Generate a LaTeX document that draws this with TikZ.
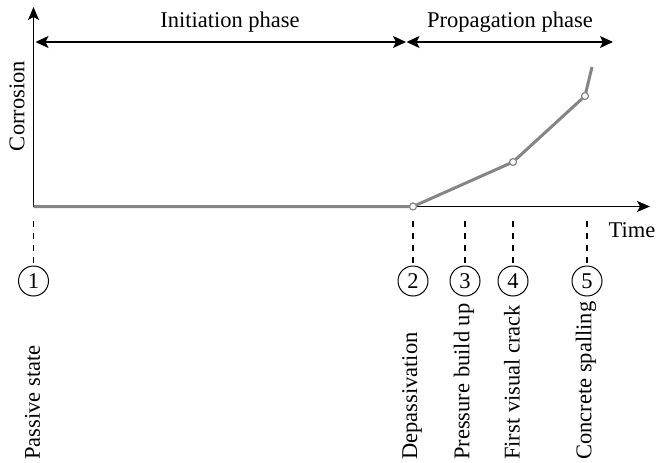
\documentclass[tikz,border=0pt]{standalone}
\usepackage{fontspec}
\setmainfont{Liberation Serif}
\usetikzlibrary{arrows.meta}
\definecolor{curvegray}{HTML}{858585}
\tikzset{
  axis/.style={line width=1.2pt, -{Stealth[length=13pt,width=11pt,inset=3pt]}},
  phase/.style={line width=1.2pt, {Stealth[length=13pt,width=12pt,inset=3pt]}-{Stealth[length=13pt,width=12pt,inset=3pt]}},
  curve/.style={line width=3pt, curvegray, line join=round},
  dot/.style={circle, draw=curvegray, fill=white, line width=1.2pt, minimum size=7pt, inner sep=0pt},
  stage/.style={circle, draw, line width=1pt, minimum size=30pt, inner sep=0pt},
  guide/.style={line width=1.2pt, dash pattern=on 6pt off 6pt},
  vlabel/.style={rotate=90, anchor=west, inner sep=0pt},
  txt/.style={inner sep=0pt}
}
\begin{document}
\begin{tikzpicture}[x=1pt,y=-1pt,font=\fontsize{22.5}{27}\selectfont]
\useasboundingbox (0,0) rectangle (656,463);
% axes
\coordinate (O) at (33.5,206.5);
\coordinate (ytop) at (33.5,7);
\coordinate (xend) at (650,206.5);
\draw[axis] (O) -- (ytop);
\draw[axis] (O) -- (xend);
% phase arrows
\coordinate (iL) at (35.5,42);
\coordinate (iR) at (406,42);
\coordinate (pL) at (406.5,42);
\coordinate (pR) at (613,42);
\draw[phase] (iL) -- (iR);
\draw[phase] (pL) -- (pR);
\node[txt] (init) at (230,22) {Initiation phase};
\node[txt] (prop) at (510,22) {Propagation phase};
% axis labels
\node[txt, rotate=90] (corr) at (17,106) {Corrosion};
\node[txt] (time) at (632,230) {Time};
% curve
\coordinate (c2) at (413,206.5);
\coordinate (c4) at (513,162);
\coordinate (c5) at (585,96);
\coordinate (cend) at (592,67);
\draw[curve] (O) -- (c2) -- (c4) -- (c5) -- (cend);
\node[dot] (d2) at (c2) {};
\node[dot] (d4) at (c4) {};
\node[dot] (d5) at (c5) {};
% stages
\foreach \n/\x/\lab in {1/33.5/Passive state, 2/413/Depassivation, 3/465/Pressure build up, 4/513/First visual crack, 5/587/Concrete spalling}{
  \coordinate (g\n) at (\x,221);
  \node[stage] (s\n) at (\x,281) {\n};
  \draw[guide] (g\n) -- (s\n.north);
  \node[vlabel] (l\n) at (\x-1,460) {\lab};
}
\end{tikzpicture}
\end{document}
